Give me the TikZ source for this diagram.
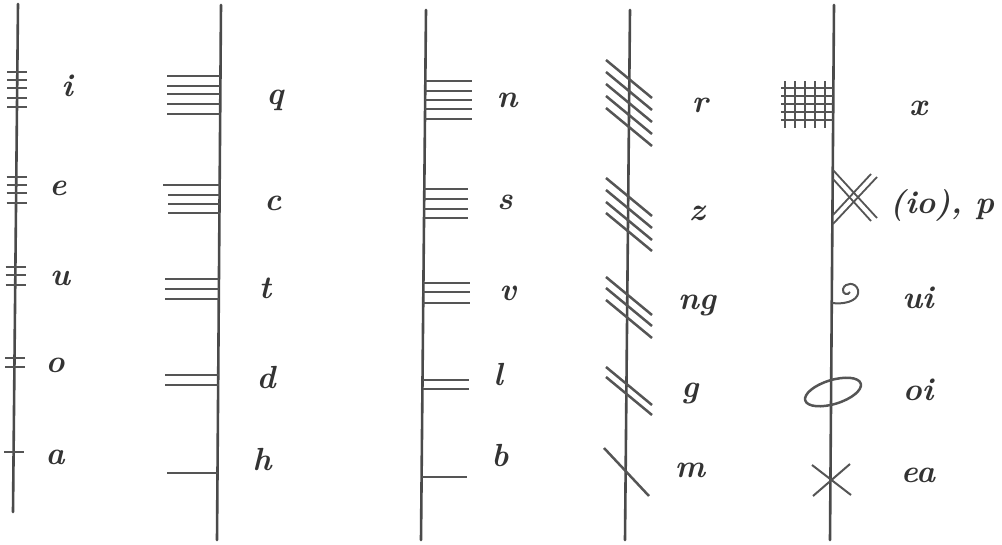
\documentclass[tikz,border=0pt]{standalone}
\usepackage{tikz}
\usepackage{xcolor}
\usetikzlibrary{positioning, calc}
\definecolor{inkStem}  {HTML}{4A4A4A}
\definecolor{inkNotch} {HTML}{555555}
\definecolor{inkLabel} {HTML}{333333}
\tikzset{
  stem/.style={line width=2.6pt, draw=inkStem, line cap=round},
  notch/.style={line width=2.5pt, draw=inkNotch},
  glyph/.style={font=\fontsize{32}{34}\selectfont\bfseries\itshape, text=inkLabel, inner sep=0pt},
}
\begin{document}
\begin{tikzpicture}[x=1pt, y=-1pt]
  \useasboundingbox (0,0) rectangle (1002,544);
  % stem lines
  \coordinate (s1t) at (18,4);   \coordinate (s1b) at (13,512);
  \coordinate (s2t) at (221,5);  \coordinate (s2b) at (217,540);
  \coordinate (s3t) at (426,10); \coordinate (s3b) at (421,540);
  \coordinate (s4t) at (630,10); \coordinate (s4b) at (625,540);
  \coordinate (s5t) at (834,5);  \coordinate (s5b) at (830,540);
  \foreach \s in {s1,s2,s3,s4,s5}{
    \draw[stem] (\s t) -- (\s b);
  }
  % group 1: across the stem
  \foreach \cx/\ys in {17/{72,80,88,98,107}, 16.5/{177,185,193,203},
                       15.5/{267,275,285}, 15/{358,367}, 14/{452}}{
    \foreach \y in \ys
      \draw[notch] (\cx-10,\y) -- (\cx+10,\y);
  }
  % group 2: left of the stem
  \foreach \xl/\xs/\ys in {167/220/{76,86,94,104,114}, 168/219.5/{195,204,213},
                           165/219/{279,289,299}, 165/218.5/{375,385}, 167/218/{473}}{
    \foreach \y in \ys
      \draw[notch] (\xl,\y) -- (\xs,\y);
  }
  \draw[notch] (163,185) -- (219.5,185);
  % group 3: right of the stem
  \foreach \xs/\xr/\ys in {425/472/{81,91,100,109,119}, 424/468/{189,199,209,218},
                           423/470/{283,292,303}, 422.5/469/{380,389}, 421.5/467/{477}}{
    \foreach \y in \ys
      \draw[notch] (\xs,\y) -- (\xr,\y);
  }
  % group 4: slanting through the stem
  \foreach \yl in {60,72,84,96,108, 178,190,202,213, 277,288,300, 367,377}
    \draw[notch] (606,\yl) -- ++(46,38);
  \draw[notch] (604,448) -- (649,496);
  % group 5: forfeda
  \foreach \gx in {785,795,805,815,825}
    \draw[notch, line width=2pt] (\gx,81) -- (\gx,128);
  \foreach \gy in {88,96,104,112,120}
    \draw[notch, line width=2pt] (781,\gy) -- (833,\gy);
  \draw[notch, line width=1.8pt] (833,170) -- (877,218);
  \draw[notch, line width=1.8pt] (833,179) -- (871,221);
  \draw[notch, line width=1.8pt] (833,224) -- (877,177);
  \draw[notch, line width=1.8pt] (833,215) -- (871,174);
  \draw[notch, line width=2pt] (832,303) .. controls (850,305) and (860,298) .. (858,290)
    .. controls (856,282) and (845,282) .. (843,289)
    .. controls (842,294) and (848,296) .. (850,292);
  \draw[notch] (833,392) ellipse [x radius=29, y radius=12, rotate=17];
  \draw[notch, line width=2pt] (812,465) -- (851,495);
  \draw[notch, line width=2pt] (813,496) -- (850,464);
  % letter values
  \node[glyph] (li) at (67,86)  {i};
  \node[glyph] (le) at (58,188) {e};
  \node[glyph] (lu) at (60,278) {u};
  \node[glyph] (lo) at (55,365) {o};
  \node[glyph] (la) at (55,457) {a};
  \node[glyph] (lq) at (275,100) {q};
  \node[glyph] (lc) at (273,203) {c};
  \node[glyph] (lt) at (265,288) {t};
  \node[glyph] (ld) at (266,378) {d};
  \node[glyph] (lh) at (262,460) {h};
  \node[glyph] (ln) at (507,100) {n};
  \node[glyph] (ls) at (505,202) {s};
  \node[glyph] (lv) at (508,293) {v};
  \node[glyph] (ll) at (498,375) {l};
  \node[glyph] (lb) at (500,456) {b};
  \node[glyph] (lr) at (700,105) {r};
  \node[glyph] (lz) at (697,213) {z};
  \node[glyph] (lng) at (697,305) {ng};
  \node[glyph] (lg) at (690,393) {g};
  \node[glyph] (lm) at (690,470) {m};
  \node[glyph] (lx) at (918,108) {x};
  \node[glyph] (lp) at (942,205) {(io),~p};
  \node[glyph] (lui) at (918,298) {ui};
  \node[glyph] (loi) at (918,390) {oi};
  \node[glyph] (lea) at (918,475) {ea};
\end{tikzpicture}
\end{document}
